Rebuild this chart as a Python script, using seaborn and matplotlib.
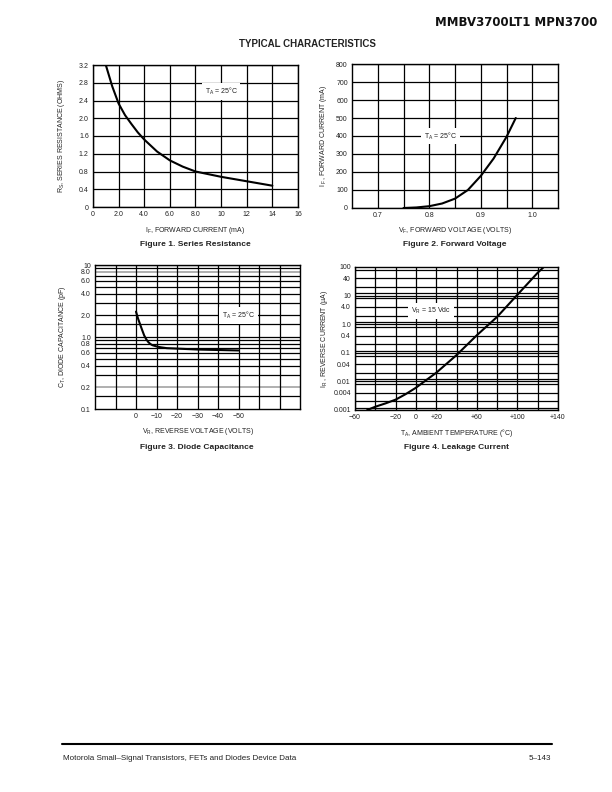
import matplotlib
matplotlib.use("Agg")
import numpy as np
import pandas as pd
import seaborn as sns
import matplotlib.pyplot as plt
from matplotlib.ticker import FixedLocator, FixedFormatter, NullFormatter

# Figure 1 - series resistance vs forward current
rs_current = [1.0, 1.5, 2.0, 2.5, 3.0, 3.5, 4.0, 5.0, 6.0, 7.0, 8.0, 9.0, 10, 11, 12, 13, 14]
rs_ohms = [3.2, 2.72, 2.33, 2.07, 1.87, 1.68, 1.52, 1.25, 1.05, 0.91, 0.80, 0.74, 0.68, 0.63, 0.58, 0.53, 0.48]

# Figure 2 - forward current vs forward voltage
vf_volts = [0.75, 0.775, 0.8, 0.825, 0.85, 0.875, 0.9, 0.925, 0.95, 0.968]
if_ma = [0, 3, 10, 25, 52, 100, 178, 275, 395, 500]

# Figure 3 - diode capacitance vs reverse voltage
vr_volts = [0, -1, -2, -3, -4, -5, -6, -7, -8, -10, -12, -15, -20, -30, -40, -50]
ct_pf = [2.25, 1.8, 1.5, 1.25, 1.05, 0.93, 0.85, 0.80, 0.77, 0.74, 0.72, 0.70, 0.69, 0.67, 0.66, 0.65]

# Figure 4 - leakage current vs ambient temperature
ta_deg = [-48, -40, -30, -20, -10, 0, 10, 20, 40, 60, 80, 100, 120, 126]
ir_ua = [0.001, 0.0013, 0.0017, 0.0023, 0.0036, 0.006, 0.011, 0.02, 0.083, 0.41, 1.8, 10.7, 63, 100]

# tick labels
fig1_xticks = [0, 2, 4, 6, 8, 10, 12, 14, 16]
fig1_xlabels = ["0", "2.0", "4.0", "6.0", "8.0", "10", "12", "14", "16"]
fig1_yticks = [0, 0.4, 0.8, 1.2, 1.6, 2.0, 2.4, 2.8, 3.2]
fig1_ylabels = ["0", "0.4", "0.8", "1.2", "1.6", "2.0", "2.4", "2.8", "3.2"]

fig2_xticks = [0.7, 0.8, 0.9, 1.0]
fig2_xlabels = ["0.7", "0.8", "0.9", "1.0"]
fig2_xgrid = [0.75, 0.85, 0.95]
fig2_yticks = [0, 100, 200, 300, 400, 500, 600, 700, 800]

fig3_xticks = [0, -10, -20, -30, -40, -50]
fig3_xlabels = ["0", "\u221210", "\u221220", "\u221230", "\u221240", "\u221250"]
fig3_xgrid = [10, -60, -70]
fig3_yticks = [10, 8, 6, 4, 2, 1, 0.8, 0.6, 0.4, 0.2, 0.1]
fig3_ylabels = ["10", "8.0", "6.0", "4.0", "2.0", "1.0", "0.8", "0.6", "0.4", "0.2", "0.1"]
fig3_ygrid = [9, 7, 6, 5, 4, 3, 2, 1.5, 1, 0.9, 0.8, 0.7, 0.6, 0.5, 0.4, 0.3, 0.15]
fig3_ygray = [8, 0.2]

fig4_xticks = [-60, -20, 0, 20, 60, 100, 140]
fig4_xlabels = ["\u221260", "\u221220", "0", "+20", "+60", "+100", "+140"]
fig4_xgrid = [-40, 40, 80, 120]
fig4_yticks = [100, 40, 10, 4, 1, 0.4, 0.1, 0.04, 0.01, 0.004, 0.001]
fig4_ylabels = ["100", "40", "10", "4.0", "1.0", "0.4", "0.1", "0.04", "0.01", "0.004", "0.001"]
fig4_ygrid = [m * d for d in [0.001, 0.01, 0.1, 1, 10] for m in [1, 1.2, 2, 4, 8]]

sns.set_style("white")
plt.rcParams['font.family'] = ['Liberation Sans', 'DejaVu Sans']
plt.rcParams['mathtext.fontset'] = 'custom'
plt.rcParams['mathtext.rm'] = 'Liberation Sans'
plt.rcParams['mathtext.it'] = 'Liberation Sans'
plt.rcParams['mathtext.default'] = 'regular'

fig = plt.figure(figsize=(6.12, 7.92), dpi=100)
TXT = "#222222"


def make_axes(left, top, right, bottom):
    ax = fig.add_axes([left / 612, 1 - bottom / 792, (right - left) / 612, (bottom - top) / 792])
    for s in ax.spines.values():
        s.set_visible(True)
        s.set_color("black")
        s.set_linewidth(1.0)
    ax.tick_params(which="both", length=0, labelsize=5, pad=3, colors=TXT)
    ax.xaxis.remove_overlapping_locs = False
    ax.yaxis.remove_overlapping_locs = False
    return ax


def grid_on(ax):
    ax.grid(True, which="both", color="black", linewidth=0.9)
    ax.set_axisbelow(True)


def note(ax, x, y, s):
    ax.text(x, y, s, ha="center", va="center", fontsize=5, color=TXT,
            bbox=dict(facecolor="white", edgecolor="none", pad=2.0), zorder=5)


def labels(ax, xl, yl, xpos, ypos):
    ax.set_xlabel(xl, fontsize=5, color=TXT)
    ax.set_ylabel(yl, fontsize=5, color=TXT)
    ax.xaxis.set_label_coords(0.5, xpos)
    ax.yaxis.set_label_coords(ypos, 0.5)


# ---- Figure 1
ax1 = make_axes(93, 65, 298, 207)
sns.lineplot(x=rs_current, y=rs_ohms, ax=ax1, color="black", linewidth=1.5)
ax1.set_xlim(0, 16)
ax1.set_ylim(0, 3.2)
ax1.set_xticks(fig1_xticks, fig1_xlabels)
ax1.set_yticks(fig1_yticks, fig1_ylabels)
grid_on(ax1)
note(ax1, 10, 2.6, "T$_{A}$ = 25\u00b0C")
labels(ax1, "I$_{F}$, FORWARD CURRENT (mA)", "R$_{S}$, SERIES RESISTANCE (OHMS)", -0.13, -0.125)

# ---- Figure 2
ax2 = make_axes(352, 64, 558, 208)
sns.lineplot(x=vf_volts, y=if_ma, ax=ax2, color="black", linewidth=1.5)
ax2.set_xlim(0.65, 1.05)
ax2.set_ylim(0, 800)
ax2.set_xticks(fig2_xticks, fig2_xlabels)
ax2.xaxis.set_minor_locator(FixedLocator(fig2_xgrid))
ax2.set_yticks(fig2_yticks, [str(v) for v in fig2_yticks])
grid_on(ax2)
note(ax2, 0.822, 400, "T$_{A}$ = 25\u00b0C")
labels(ax2, "V$_{F}$, FORWARD VOLTAGE (VOLTS)", "I $_{F}$, FORWARD CURRENT (mA)", -0.12, -0.11)

# ---- Figure 3
ax3 = make_axes(95, 265, 300, 409)
ax3.set_yscale("log")
sns.lineplot(x=vr_volts, y=ct_pf, ax=ax3, color="black", linewidth=1.5)
ax3.set_xlim(20, -80)
ax3.set_ylim(0.1, 10)
ax3.xaxis.set_major_locator(FixedLocator(fig3_xticks))
ax3.xaxis.set_major_formatter(FixedFormatter(fig3_xlabels))
ax3.xaxis.set_minor_locator(FixedLocator(fig3_xgrid))
ax3.yaxis.set_major_locator(FixedLocator(fig3_yticks))
ax3.yaxis.set_major_formatter(FixedFormatter(fig3_ylabels))
ax3.yaxis.set_minor_locator(FixedLocator(fig3_ygrid))
ax3.yaxis.set_minor_formatter(NullFormatter())
ax3.grid(True, which="both", axis="x", color="black", linewidth=0.9)
ax3.grid(True, which="minor", axis="y", color="black", linewidth=0.9)
ax3.set_axisbelow(True)
for g in fig3_ygray:
    ax3.axhline(g, color="#9a9a9a", linewidth=1.1, zorder=0.5)
ax3.axhline(10, color="black", linewidth=0.9, zorder=0.5)
note(ax3, -50, 2.0, "T$_{A}$ = 25\u00b0C")
labels(ax3, "V$_{R}$, REVERSE VOLTAGE (VOLTS)", "C$_{T}$, DIODE CAPACITANCE (pF)", -0.12, -0.13)

# ---- Figure 4
ax4 = make_axes(355, 267, 558, 410)
ax4.set_yscale("log")
sns.lineplot(x=ta_deg, y=ir_ua, ax=ax4, color="black", linewidth=1.5)
ax4.set_xlim(-60, 140)
ax4.set_ylim(0.001, 100)
ax4.xaxis.set_major_locator(FixedLocator(fig4_xticks))
ax4.xaxis.set_major_formatter(FixedFormatter(fig4_xlabels))
ax4.xaxis.set_minor_locator(FixedLocator(fig4_xgrid))
ax4.yaxis.set_major_locator(FixedLocator(fig4_yticks))
ax4.yaxis.set_major_formatter(FixedFormatter(fig4_ylabels))
ax4.yaxis.set_minor_locator(FixedLocator(fig4_ygrid))
ax4.yaxis.set_minor_formatter(NullFormatter())
ax4.grid(True, which="both", axis="x", color="black", linewidth=0.9)
ax4.grid(True, which="minor", axis="y", color="black", linewidth=0.9)
ax4.set_axisbelow(True)
note(ax4, 15, 2.9, "V$_{R}$ = 15 Vdc")
labels(ax4, "T$_{A}$, AMBIENT TEMPERATURE (\u00b0C)", "I$_{R}$ , REVERSE CURRENT (\u00b5A)", -0.12, -0.125)

# captions and page text
cap = dict(fontsize=6, fontweight="bold", color=TXT, ha="center", va="center")
fig.text(195 / 612, 1 - 245 / 792, "Figure 1. Series Resistance", **cap)
fig.text(455 / 612, 1 - 245 / 792, "Figure 2. Forward Voltage", **cap)
fig.text(197 / 612, 1 - 447 / 792, "Figure 3. Diode Capacitance", **cap)
fig.text(456 / 612, 1 - 447 / 792, "Figure 4. Leakage Current", **cap)

fig.text(307 / 612, 1 - 44 / 792, "TYPICAL CHARACTERISTICS", fontsize=7, fontweight="bold",
         color=TXT, ha="center", va="center")
fig.text(597 / 612, 1 - 22 / 792, "MMBV3700LT1 MPN3700", fontsize=8.5, fontweight="heavy",
         family="DejaVu Sans", color="#111111", ha="right", va="center")

fig.add_artist(plt.Line2D([62 / 612, 552 / 612], [1 - 744 / 792, 1 - 744 / 792],
                          color="black", linewidth=1.5))
fig.text(63 / 612, 1 - 758 / 792, "Motorola Small\u2013Signal Transistors, FETs and Diodes Device Data",
         fontsize=5.8, color=TXT, ha="left", va="center")
fig.text(551 / 612, 1 - 758 / 792, "5\u2013143", fontsize=5.8, color=TXT, ha="right", va="center")

fig.savefig("out.png", dpi=100)
